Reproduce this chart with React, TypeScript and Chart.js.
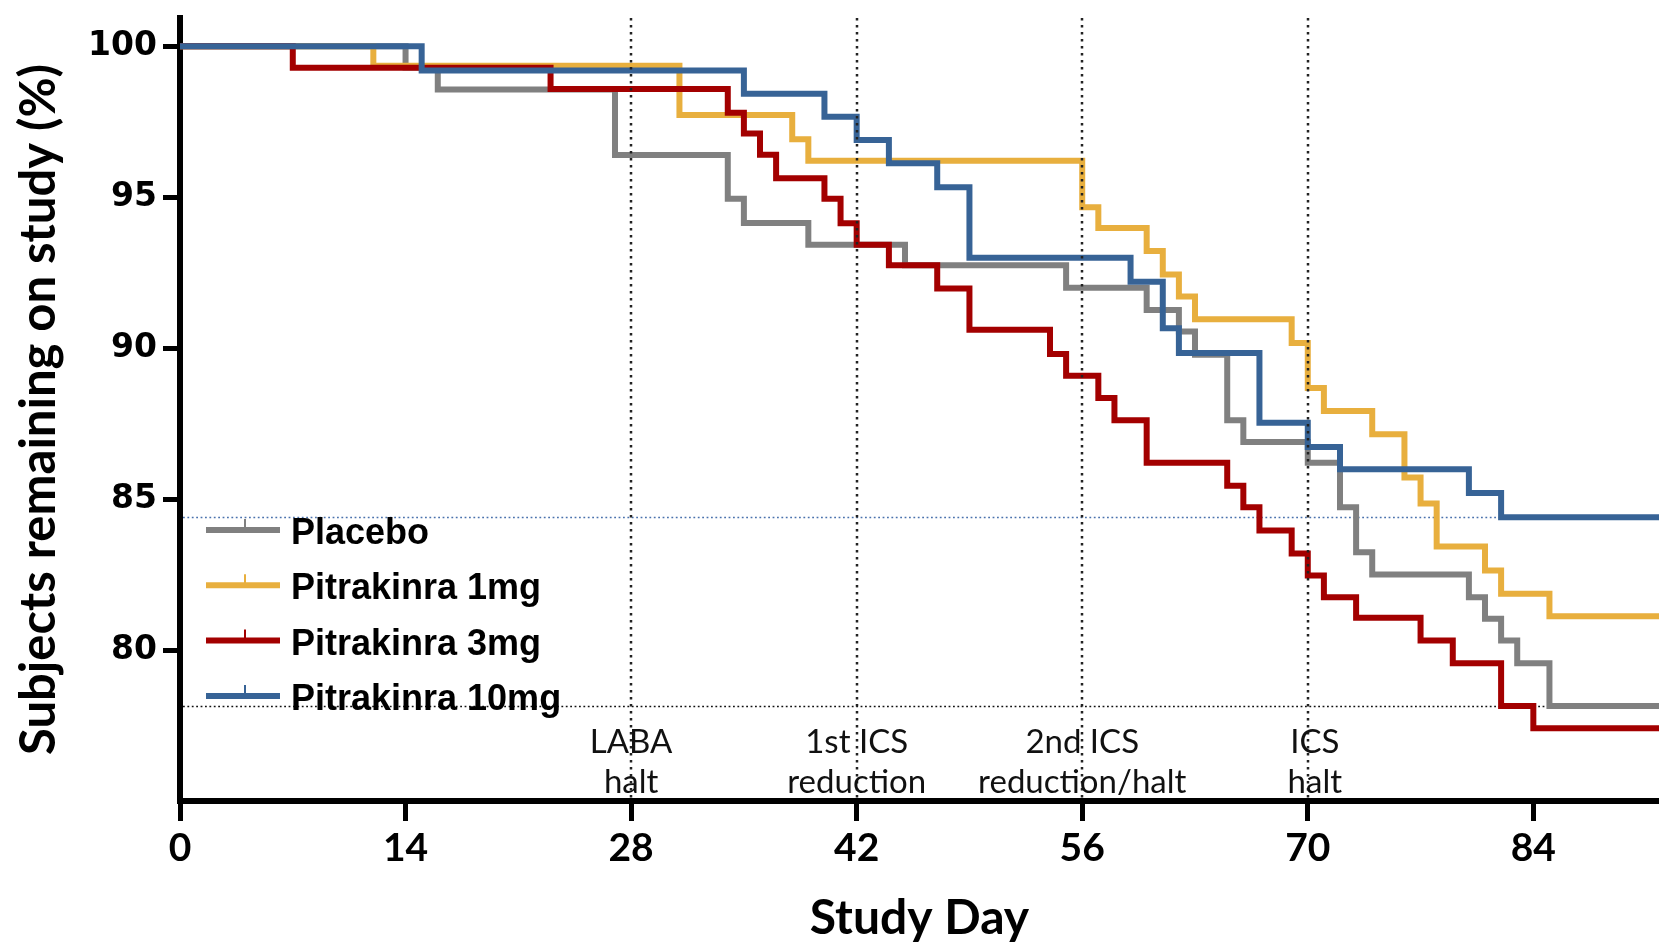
import React, { useEffect, useRef } from "react";
import { Chart, registerables } from "chart.js";

Chart.register(...registerables);

const W = 1659;
const H = 943;

// ---- data (day of drop, % remaining after the drop) ----
const seriesLabels = ["Placebo", "Pitrakinra 1mg", "Pitrakinra 3mg", "Pitrakinra 10mg"];
const seriesColors = ["#808080", "#E8AF3E", "#A30000", "#376396"];

const placeboDays = [0, 14, 16, 27, 34, 35, 39, 45, 55, 60, 62, 63, 65, 66, 70, 72, 73, 74, 80, 81, 82, 83, 85, 92];
const placeboPct = [100, 99.3, 98.57, 96.4, 94.95, 94.15, 93.43, 92.75, 92.0, 91.27, 90.55, 89.78, 87.61, 86.89, 86.21, 84.73, 83.24, 82.5, 81.75, 81.04, 80.32, 79.56, 78.15, 78.15];

const mg1Days = [0, 12, 31, 38, 39, 56, 57, 60, 61, 62, 63, 69, 70, 71, 74, 76, 77, 78, 81, 82, 85, 92];
const mg1Pct = [100, 99.36, 97.73, 96.92, 96.21, 94.67, 93.98, 93.22, 92.44, 91.71, 90.96, 90.17, 88.68, 87.92, 87.15, 85.72, 84.86, 83.43, 82.64, 81.87, 81.12, 81.12];

const mg3Days = [0, 7, 23, 34, 35, 36, 37, 40, 41, 42, 44, 47, 49, 54, 55, 57, 58, 60, 65, 66, 67, 69, 70, 71, 73, 77, 79, 82, 84, 92];
const mg3Pct = [100, 99.29, 98.59, 97.8, 97.11, 96.41, 95.63, 94.95, 94.14, 93.43, 92.75, 91.98, 90.61, 89.81, 89.09, 88.35, 87.61, 86.21, 85.44, 84.73, 83.96, 83.2, 82.47, 81.75, 81.07, 80.32, 79.56, 78.15, 77.41, 77.41];

const mg10Days = [0, 15, 35, 40, 42, 44, 47, 49, 59, 61, 62, 67, 70, 72, 80, 82, 92];
const mg10Pct = [100, 99.2, 98.43, 97.67, 96.9, 96.13, 95.33, 93.0, 92.2, 90.66, 89.84, 87.53, 86.73, 85.99, 85.2, 84.4, 84.4];

const xTicks = [0, 14, 28, 42, 56, 70, 84];
const yTicks = [80, 85, 90, 95, 100];

const milestoneDays = [28, 42, 56, 70];
const milestoneLine1 = ["LABA", "1st ICS", "2nd ICS", "ICS"];
const milestoneLine2 = ["halt", "reduction", "reduction/halt", "halt"];

const allDays = [placeboDays, mg1Days, mg3Days, mg10Days];
const allPct = [placeboPct, mg1Pct, mg3Pct, mg10Pct];
const drawOrder = [3, 2, 1, 0]; // blue on top

const refLinesPlugin = {
  id: "refLines",
  beforeDatasetsDraw(chart: any) {
    const { ctx, chartArea, scales } = chart;
    const refs = [
      { v: mg10Pct[mg10Pct.length - 1], color: "#4a72ad" },
      { v: placeboPct[placeboPct.length - 1], color: "#111" },
    ];
    ctx.save();
    ctx.lineWidth = 1.6;
    ctx.setLineDash([1.8, 2.6]);
    for (const r of refs) {
      const y = Math.round(scales.y.getPixelForValue(r.v)) + 0.5;
      ctx.strokeStyle = r.color;
      ctx.beginPath();
      ctx.moveTo(chartArea.left + 3, y);
      ctx.lineTo(chartArea.right, y);
      ctx.stroke();
    }
    ctx.restore();
  },
};

const milestonePlugin = {
  id: "milestones",
  afterDatasetsDraw(chart: any) {
    const { ctx, chartArea, scales } = chart;
    const dx = [0, 0, 0, 7];
    ctx.save();
    ctx.strokeStyle = "#222";
    ctx.lineWidth = 2.5;
    ctx.setLineDash([2.5, 4.5]);
    milestoneDays.forEach((d) => {
      const x = Math.round(scales.x.getPixelForValue(d));
      ctx.beginPath();
      ctx.moveTo(x, chartArea.top);
      ctx.lineTo(x, chartArea.bottom - 3);
      ctx.stroke();
    });
    ctx.setLineDash([]);
    ctx.fillStyle = "#111";
    ctx.font = "33px Lato";
    ctx.textAlign = "center";
    ctx.textBaseline = "middle";
    milestoneDays.forEach((d, i) => {
      const x = scales.x.getPixelForValue(d) + dx[i];
      ctx.fillText(milestoneLine1[i], x, chartArea.bottom - 59);
      ctx.fillText(milestoneLine2[i], x, chartArea.bottom - 19);
    });
    ctx.restore();
  },
};

const legendPlugin = {
  id: "customLegend",
  afterDraw(chart: any) {
    const { ctx } = chart;
    ctx.save();
    seriesLabels.forEach((label, i) => {
      const y = 530 + i * 55.3;
      ctx.strokeStyle = seriesColors[i];
      ctx.lineWidth = 6;
      ctx.beginPath();
      ctx.moveTo(206, y);
      ctx.lineTo(280, y);
      ctx.stroke();
      ctx.lineWidth = 2;
      ctx.beginPath();
      ctx.moveTo(245, y);
      ctx.lineTo(245, y - 11);
      ctx.stroke();
      ctx.fillStyle = "#000";
      ctx.font = "bold 36px 'Liberation Sans'";
      ctx.textAlign = "left";
      ctx.textBaseline = "alphabetic";
      ctx.fillText(label, 291, y + 14);
    });
    ctx.restore();
  },
};

export default function App() {
  const ref = useRef<HTMLCanvasElement>(null);

  useEffect(() => {
    const canvas = ref.current;
    if (!canvas) return;
    const datasets = seriesLabels.map((label, i) => ({
      label,
      data: allDays[i].map((d, j) => ({ x: d, y: allPct[i][j] })),
      borderColor: seriesColors[i],
      backgroundColor: seriesColors[i],
      borderWidth: 6,
      stepped: "before" as const,
      pointRadius: 0,
      fill: false,
      order: drawOrder[i],
      borderJoinStyle: "miter" as const,
    }));

    const chart = new Chart(canvas, {
      type: "line",
      data: { datasets },
      options: {
        responsive: false,
        animation: false,
        devicePixelRatio: 1,
        layout: { padding: { top: 18, left: 0, right: 0, bottom: 0 } },
        plugins: {
          legend: { display: false },
          tooltip: { enabled: false },
        },
        scales: {
          x: {
            type: "linear",
            min: 0,
            max: 91.8,
            afterBuildTicks: (s: any) => {
              s.ticks = xTicks.map((v) => ({ value: v }));
            },
            afterFit: (s: any) => {
              s.height = 142;
            },
            border: { display: true, color: "#000", width: 6 },
            grid: {
              display: true,
              drawOnChartArea: false,
              drawTicks: true,
              tickLength: 20,
              tickWidth: 5,
              tickColor: "#000",
            },
            ticks: {
              color: "#000",
              font: { family: "Lato", weight: "bold", size: 39 },
              padding: 4,
              maxRotation: 0,
              autoSkip: false,
            },
            title: {
              display: true,
              text: "Study Day",
              color: "#000",
              font: { family: "Lato", weight: "bold", size: 48, lineHeight: 1.0 },
              padding: { top: 0, bottom: 0 },
            },
          },
          y: {
            type: "linear",
            min: 75,
            max: 100.94,
            afterBuildTicks: (s: any) => {
              s.ticks = yTicks.map((v) => ({ value: v }));
            },
            afterFit: (s: any) => {
              s.width = 180;
              s.paddingTop = 0;
              s.paddingBottom = 0;
            },
            border: { display: true, color: "#000", width: 6 },
            grid: {
              display: true,
              drawOnChartArea: false,
              drawTicks: true,
              tickLength: 17,
              tickWidth: 5,
              tickColor: "#000",
            },
            ticks: {
              color: "#000",
              font: { family: "DejaVu Sans", weight: "bold", size: 33 },
              padding: 6,
              autoSkip: false,
            },
            title: {
              display: true,
              text: "Subjects remaining on study (%)",
              color: "#000",
              font: { family: "Lato", weight: "bold", size: 49 },
              padding: { top: 10, bottom: 0 },
            },
          },
        },
      },
      plugins: [refLinesPlugin, milestonePlugin, legendPlugin],
    });

    return () => chart.destroy();
  }, []);

  return (
    <div style={{ position: "fixed", left: 0, top: 0, width: W, height: H, background: "#fff" }}>
      <canvas ref={ref} width={W} height={H} style={{ width: W, height: H, display: "block" }} />
    </div>
  );
}
